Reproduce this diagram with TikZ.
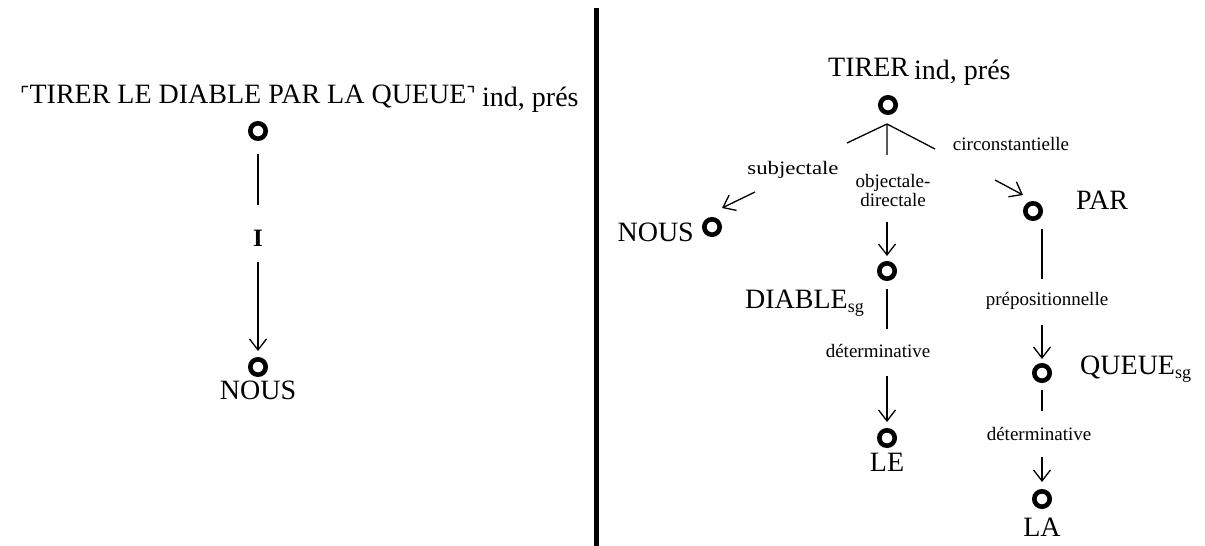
\documentclass[tikz,border=0pt]{standalone}
\usepackage{fontspec}
\setmainfont{Liberation Serif}
\newfontfamily\symfont{DejaVu Sans}
\newfontfamily\widefont[FakeStretch=1.2]{Liberation Serif}
\usetikzlibrary{arrows.meta, positioning}

\newcommand{\sgsub}{\raisebox{-4pt}{\fontsize{18}{18}\selectfont sg}}
\newcommand{\qopen}{{\symfont\fontsize{20}{20}\selectfont\raisebox{2pt}{⌜}}}
\newcommand{\qclose}{{\symfont\fontsize{20}{20}\selectfont\raisebox{2pt}{⌝}}}

\tikzset{
  vtx/.style={circle, draw, line width=4.6pt, minimum size=15.4pt, inner sep=0pt},
  big/.style={font=\fontsize{28}{32}\selectfont, inner sep=0pt},
  lbl/.style={font=\fontsize{19}{19}\selectfont, inner sep=0pt, align=center},
  edge/.style={line width=1.3pt},
  arr/.style={edge, -{Straight Barb[length=11pt, width=17pt, line width=1.3pt]}},
}

\begin{document}
\begin{tikzpicture}[x=1pt, y=-1pt]
  \useasboundingbox (0,0) rectangle (1205,546);

  % left: the idiom as one node
  \node[big, anchor=base west] (ltitle) at (20,103) {\qopen TIRER LE DIABLE PAR LA QUEUE\qclose};
  \node[big, anchor=base west] (lgram) at (482,106) {ind, prés};
  \node[vtx] (lroot) at (258,131) {};
  \node[font=\bfseries\fontsize{25}{25}\selectfont, inner sep=0pt, anchor=base] (lrel) at (258,246) {I};
  \node[vtx] (lnous) at (258,367) {};
  \node[big, below=4pt of lnous] (lnoustxt) {NOUS};
  \draw[edge, shorten <=13pt, shorten >=24pt] (lroot) -- (lrel);
  \draw[arr, shorten <=16pt, shorten >=6pt] (lrel) -- (lnous);

  % separator
  \draw[line width=5pt] (596,8) -- (596,546);

  % right: analysed tree
  \node[big, anchor=base west] (rverb) at (828,76) {TIRER};
  \node[big, anchor=base west] (rgram) at (914,79) {ind, prés};
  \node[vtx] (root) at (888,105) {};
  \coordinate (fork) at (887,124);
  \coordinate (fl) at (847,143);
  \coordinate (fm) at (887,155);
  \coordinate (fr) at (935,149);
  \draw[edge] (fl) -- (fork) -- (fr) (fork) -- (fm);

  \node[font=\widefont\fontsize{19}{19}\selectfont, inner sep=0pt, anchor=base] (subj) at (793,174) {subjectale};
  \node[lbl, anchor=north] (obj) at (893,174) {objectale-\\directale};
  \node[lbl, anchor=base] (circ) at (1011,150) {circonstantielle};

  \node[vtx] (nous) at (712,227) {};
  \node[vtx] (diable) at (887,271) {};
  \node[vtx] (le) at (887,438) {};
  \node[vtx] (par) at (1033,211) {};
  \node[vtx] (queue) at (1042,373) {};
  \node[vtx] (la) at (1042,499) {};

  \node[big, anchor=base east] (nousw) at (694,241) {NOUS};
  \node[big, anchor=base east] (diablew) at (864,308) {DIABLE\sgsub};
  \node[big, below=5pt of le] (lew) {LE};
  \node[big, anchor=base west] (parw) at (1076,209) {PAR};
  \node[big, anchor=base west] (queuew) at (1080,374) {QUEUE\sgsub};
  \node[big, below=9pt of la] (law) {LA};

  \node[lbl, anchor=base] (det1) at (878,357) {déterminative};
  \node[lbl, anchor=base] (prep) at (1047,305) {prépositionnelle};
  \node[lbl, anchor=base] (det2) at (1039,440) {déterminative};

  \coordinate (s0) at (755,192);
  \coordinate (s1) at (722,208);
  \draw[arr] (s0) -- (s1);
  \coordinate (c0) at (995,180);
  \coordinate (c1) at (1023,195);
  \draw[arr] (c0) -- (c1);

  \draw[arr, shorten <=15pt, shorten >=5pt] (obj.south -| diable) -- (diable);
  \draw[edge, shorten <=8pt, shorten >=14.5pt] (diable) -- (diable |- det1.north);
  \draw[arr, shorten <=19pt, shorten >=6pt] (diable |- det1.south) -- (le);

  \draw[edge, shorten <=8pt, shorten >=12.5pt] (queue |- par.south) -- (queue |- prep.north);
  \draw[arr, shorten <=16pt, shorten >=4pt] (queue |- prep.south) -- (queue);
  \draw[edge, shorten <=7pt, shorten >=15.5pt] (queue) -- (queue |- det2.north);
  \draw[arr, shorten <=17pt, shorten >=7pt] (queue |- det2.south) -- (la);
\end{tikzpicture}
\end{document}
